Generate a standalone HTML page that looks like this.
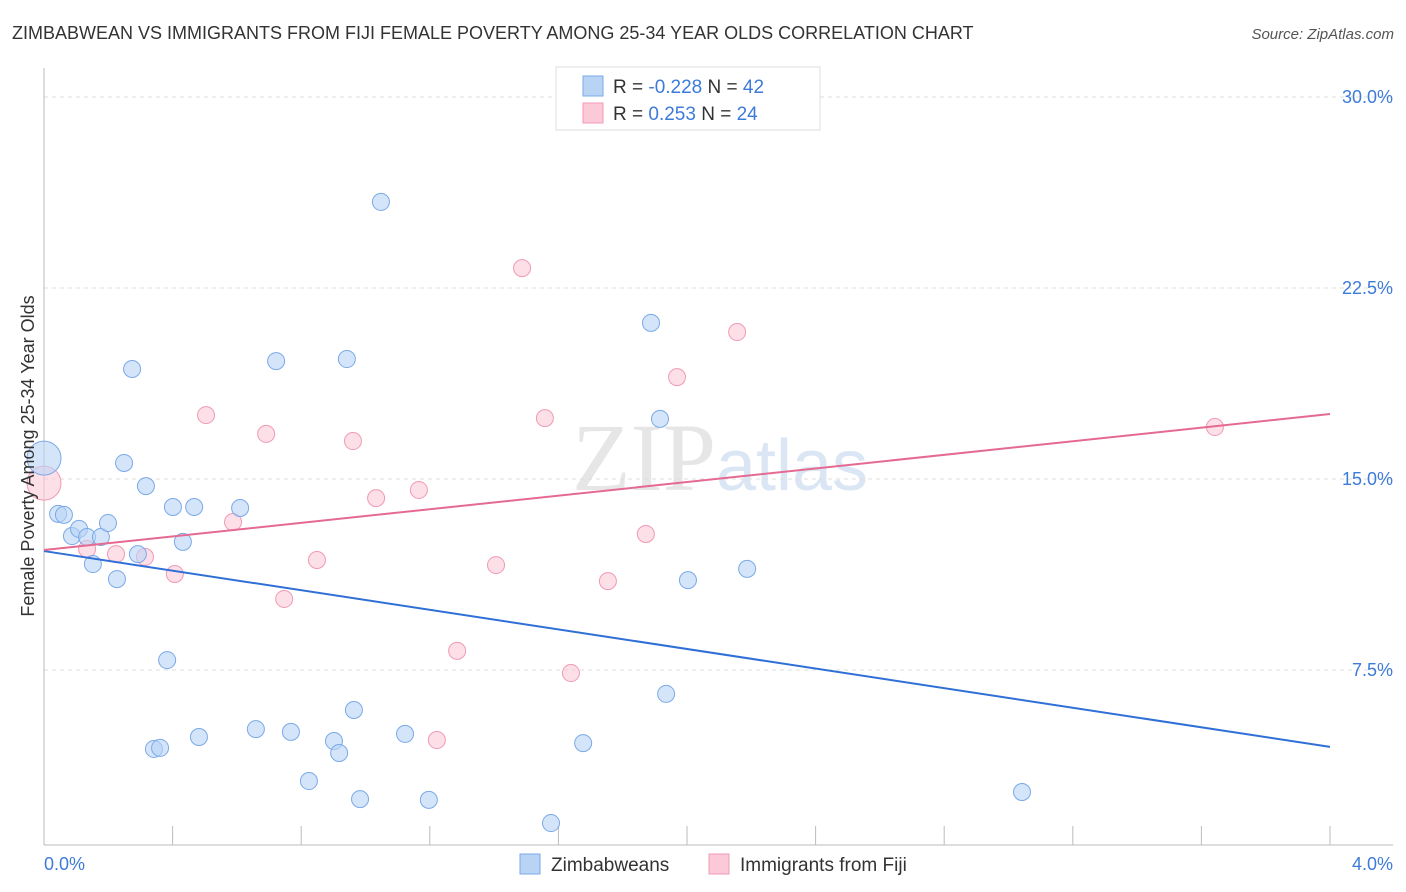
<!DOCTYPE html>
<html><head><meta charset="utf-8"><style>
body{margin:0;background:#fff;font-family:"Liberation Sans",sans-serif;}
svg{display:block}
</style></head><body>
<svg width="1406" height="892" xmlns="http://www.w3.org/2000/svg">
<text x="12" y="39" font-size="18" fill="#333">ZIMBABWEAN VS IMMIGRANTS FROM FIJI FEMALE POVERTY AMONG 25-34 YEAR OLDS CORRELATION CHART</text>
<text x="1394" y="39" font-size="15" fill="#555" font-style="italic" text-anchor="end">Source: ZipAtlas.com</text>
<text x="720" y="490" font-size="96" fill="#e6e6e6" text-anchor="middle" font-family="Liberation Serif,serif">ZIP<tspan fill="#dbe6f5" font-family="Liberation Sans,sans-serif" font-size="72">atlas</tspan></text>
<g id="grid"></g>
<g id="axes"></g>
<g id="marks"></g>
<text transform="translate(34,456) rotate(-90)" font-size="18" fill="#333" text-anchor="middle">Female Poverty Among 25-34 Year Olds</text>
<g>
<rect x="556" y="67" width="264" height="63" fill="#fff" stroke="#ddd"/>
<rect x="583" y="76" width="20" height="20" fill="#b9d3f5" stroke="#7aa9e8"/>
<rect x="583" y="103" width="20" height="20" fill="#fbc9d8" stroke="#f09ab4"/>
<text x="613" y="93" font-size="19" fill="#333">R = <tspan fill="#3d7bd9">-0.228</tspan>   N = <tspan fill="#3d7bd9">42</tspan></text>
<text x="613" y="120" font-size="19" fill="#333">R =  <tspan fill="#3d7bd9"> 0.253</tspan>   N = <tspan fill="#3d7bd9">24</tspan></text>
</g>
<g>
<rect x="520" y="854" width="20" height="20" fill="#b9d3f5" stroke="#7aa9e8"/>
<text x="551" y="871" font-size="19" fill="#333">Zimbabweans</text>
<rect x="709" y="854" width="20" height="20" fill="#fbc9d8" stroke="#f09ab4"/>
<text x="740" y="871" font-size="19" fill="#333">Immigrants from Fiji</text>
</g>
</svg>
<script>
const yTicks=[7.5,15,22.5,30];
const xTickLabels=["0.0%","4.0%"];
const blueX=[0,0.044,0.062,0.087,0.109,0.134,0.177,0.199,0.152,0.227,0.249,0.274,0.317,0.292,0.401,0.467,0.432,0.383,0.342,0.361,0.482,0.610,0.659,0.722,0.768,0.824,0.902,0.918,0.942,0.964,0.983,1.048,1.123,1.197,1.577,1.677,1.888,1.916,1.935,2.003,2.187,3.042];
const blueY=[15.82,13.63,13.59,12.76,13.04,12.72,12.72,13.27,11.66,11.07,15.63,19.32,14.72,12.05,13.90,13.90,12.53,7.89,4.40,4.44,4.87,13.86,5.18,19.63,5.07,3.14,4.71,4.24,19.71,5.93,2.43,25.88,4.99,2.40,1.49,4.63,21.13,17.36,6.56,11.03,11.47,2.71];
const pinkX=[0,0.134,0.224,0.314,0.407,0.504,0.588,0.691,0.747,0.849,0.961,1.033,1.166,1.222,1.285,1.406,1.487,1.558,1.639,1.754,1.872,1.969,2.156,3.642];
const pinkY=[14.84,12.25,12.05,11.94,11.27,17.51,13.31,16.77,10.29,11.82,16.49,14.25,14.57,4.75,8.25,11.62,23.28,17.39,7.38,10.99,12.84,19.00,20.77,17.04];
const blueTrend=[12.17,4.48];
const pinkTrend=[12.21,17.55];
const NS="http://www.w3.org/2000/svg";
const X=v=>44+v*321.5, Y=v=>861-v*25.467;
function mk(tag,attrs,parent){const e=document.createElementNS(NS,tag);for(const k in attrs)e.setAttribute(k,attrs[k]);parent.appendChild(e);return e;}
const grid=document.getElementById('grid'),axes=document.getElementById('axes'),marks=document.getElementById('marks');
yTicks.forEach(t=>{
 const l=mk('line',{x1:44,x2:1393,y1:Y(t),y2:Y(t),stroke:'#ddd','stroke-dasharray':'4,4'},grid);
 
 
 const tx=mk('text',{x:1393,y:Y(t)+6,'font-size':18,fill:'#3d7bd9','text-anchor':'end'},grid);
 tx.textContent=t.toFixed(1)+'%';
 
 
});
const ax=mk('line',{x1:44,x2:1393,y1:845,y2:845,stroke:'#bbb'},axes);


const ay=mk('line',{x1:44,x2:44,y1:68,y2:845,stroke:'#bbb'},axes);


for(let i=1;i<=10;i++){const t=mk('line',{x1:X(i*0.4),x2:X(i*0.4),y1:826,y2:845,stroke:'#bbb'},axes);
 
 }
[[0,'start',44],[4,'end',1393]].forEach((d,i)=>{const t=mk('text',{x:d[2],y:870,'font-size':18,fill:'#3d7bd9','text-anchor':d[1]},axes);t.textContent=xTickLabels[i];
 
 });
function pts(xs,ys,fill,stroke,name){xs.forEach((x,i)=>{const r=i===0?17:8.5;
 const c=mk('circle',{cx:X(x),cy:Y(ys[i]),r:r,fill:fill,stroke:stroke,'stroke-width':1,'fill-opacity':0.6},marks);
 
 });}
pts(pinkX,pinkY,'#fbc9d8','#f09ab4','fiji-point');
pts(blueX,blueY,'#b9d3f5','#7aa9e8','zimbabwean-point');
const bl=mk('line',{x1:X(0),x2:X(4),y1:Y(blueTrend[0]),y2:Y(blueTrend[1]),stroke:'#2f6fd6','stroke-width':2},marks);


const pl=mk('line',{x1:X(0),x2:X(4),y1:Y(pinkTrend[0]),y2:Y(pinkTrend[1]),stroke:'#e56a91','stroke-width':2},marks);


</script>
</body></html>
